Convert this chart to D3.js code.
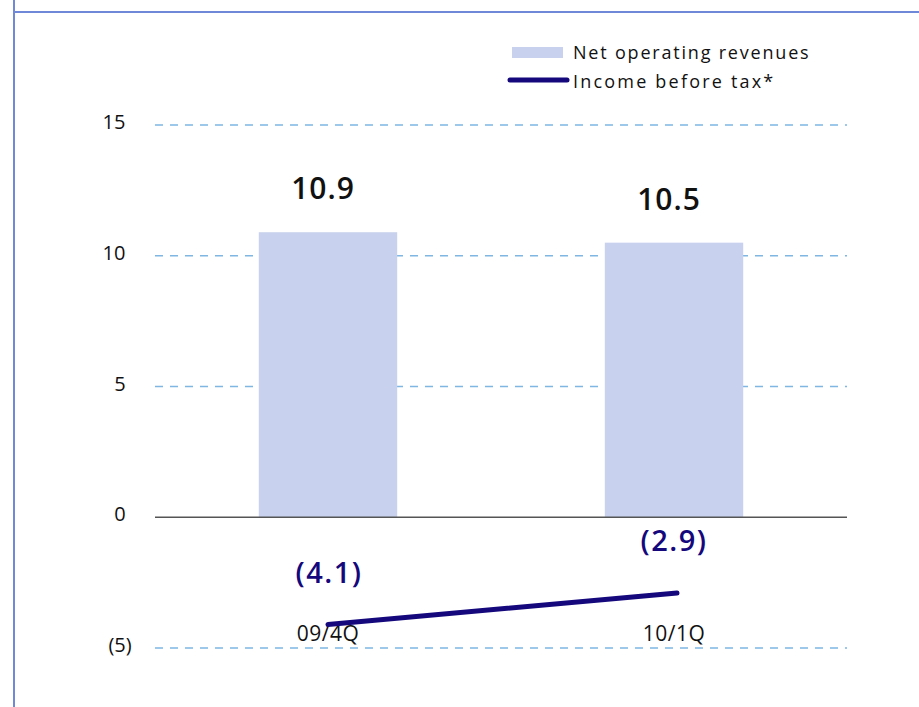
<!DOCTYPE html>
<html>
<head>
<meta charset="utf-8">
<script src="https://cdn.jsdelivr.net/npm/d3@7"></script>
<style>
  body { margin: 0; background: #fff; }
  svg text { font-family: "Open Sans", "DejaVu Sans", sans-serif; }
</style>
</head>
<body>
<svg id="chart" width="919" height="707"></svg>
<script>
// values
var quarters   = ["09/4Q", "10/1Q"];
var revenues   = [10.9, 10.5];
var income     = [-4.1, -2.9];
var yTicks     = [15, 10, 5, 0, -5];
var seriesNames = ["Net operating revenues", "Income before tax*"];

var barColor  = "#c8d2ee",
    lineColor = "#14087c",
    gridColor = "#7fb6e2";

var svg = d3.select("#chart");

// frame in the corner
svg.append("line").attr("x1", 14).attr("x2", 14).attr("y1", 0).attr("y2", 707)
  .attr("stroke", "#7088d8").attr("stroke-width", 2);
svg.append("line").attr("x1", 14).attr("x2", 919).attr("y1", 12).attr("y2", 12)
  .attr("stroke", "#7088d8").attr("stroke-width", 2);

var x = d3.scaleBand().domain(quarters).range([155, 847]).paddingInner(0.6).paddingOuter(0.3);
var y = d3.scaleLinear().domain([-5, 15]).range([648, 125]);

function tickFmt(v) { return v < 0 ? "(" + (-v) + ")" : String(v); }

// gridlines (dashed) + zero line
svg.append("g").selectAll("line")
  .data(yTicks.filter(function(t) { return t !== 0; }))
  .enter().append("line")
  .attr("x1", 155).attr("x2", 847)
  .attr("y1", function(d) { return y(d); }).attr("y2", function(d) { return y(d); })
  .attr("stroke", gridColor).attr("stroke-width", 1.5)
  .attr("stroke-dasharray", "8,7");

// y labels
svg.append("g").selectAll("text")
  .data(yTicks).enter().append("text")
  .attr("x", function(d) { return d >= 10 ? 114 : 120; })
  .attr("y", function(d) { return y(d) + 4; })
  .attr("text-anchor", "middle")
  .attr("font-size", 20).attr("fill", "#111")
  .text(tickFmt);

// bars
svg.append("g").selectAll("rect")
  .data(revenues).enter().append("rect")
  .attr("x", function(d, i) { return x(quarters[i]); })
  .attr("width", x.bandwidth())
  .attr("y", function(d) { return y(d); })
  .attr("height", function(d) { return y(0) - y(d); })
  .attr("fill", barColor);

svg.append("line").attr("x1", 155).attr("x2", 847).attr("y1", y(0)).attr("y2", y(0))
  .attr("stroke", "#555").attr("stroke-width", 1.5);

// bar value labels
svg.append("g").selectAll("text")
  .data(revenues).enter().append("text")
  .attr("x", function(d, i) { return x(quarters[i]) + x.bandwidth() / 2 - 5; })
  .attr("y", function(d) { return y(d) - 33; })
  .attr("text-anchor", "middle")
  .attr("font-size", 30).attr("font-weight", 600).attr("fill", "#111")
  .attr("letter-spacing", 1)
  .text(function(d) { return d.toFixed(1); });

// category labels
svg.append("g").selectAll("text")
  .data(quarters).enter().append("text")
  .attr("x", function(d) { return x(d) + x.bandwidth() / 2; })
  .attr("y", 641)
  .attr("text-anchor", "middle")
  .attr("font-size", 21).attr("fill", "#111")
  .attr("letter-spacing", 0.5)
  .text(function(d) { return d; });

// income line
var line = d3.line()
  .x(function(d, i) { return x(quarters[i]) + x.bandwidth() / 2 + (i ? 3 : 0); })
  .y(function(d) { return y(d); });
svg.append("path").datum(income)
  .attr("d", line)
  .attr("fill", "none").attr("stroke", lineColor)
  .attr("stroke-width", 5).attr("stroke-linecap", "round");

// income labels
var incLabelY = [583, 551];
svg.append("g").selectAll("text")
  .data(income).enter().append("text")
  .attr("x", function(d, i) { return x(quarters[i]) + x.bandwidth() / 2 + (i ? 0 : 1); })
  .attr("y", function(d, i) { return incLabelY[i]; })
  .attr("text-anchor", "middle")
  .attr("font-size", 29).attr("font-weight", 600).attr("fill", lineColor)
  .attr("letter-spacing", 1.5)
  .text(function(d) { return "(" + (-d).toFixed(1) + ")"; });

// legend
var legend = svg.append("g");
legend.append("rect").attr("x", 512).attr("y", 47).attr("width", 51).attr("height", 11)
  .attr("fill", barColor);
legend.append("line").attr("x1", 510).attr("x2", 567).attr("y1", 80).attr("y2", 80)
  .attr("stroke", lineColor).attr("stroke-width", 5).attr("stroke-linecap", "round");
legend.selectAll("text.leg")
  .data(seriesNames).enter().append("text")
  .attr("class", "leg")
  .attr("x", 573)
  .attr("y", function(d, i) { return 59 + i * 29; })
  .attr("font-size", 18).attr("fill", "#111")
  .attr("letter-spacing", function(d, i) { return i ? 2.2 : 1.8; })
  .text(function(d) { return d; });
</script>
</body>
</html>
